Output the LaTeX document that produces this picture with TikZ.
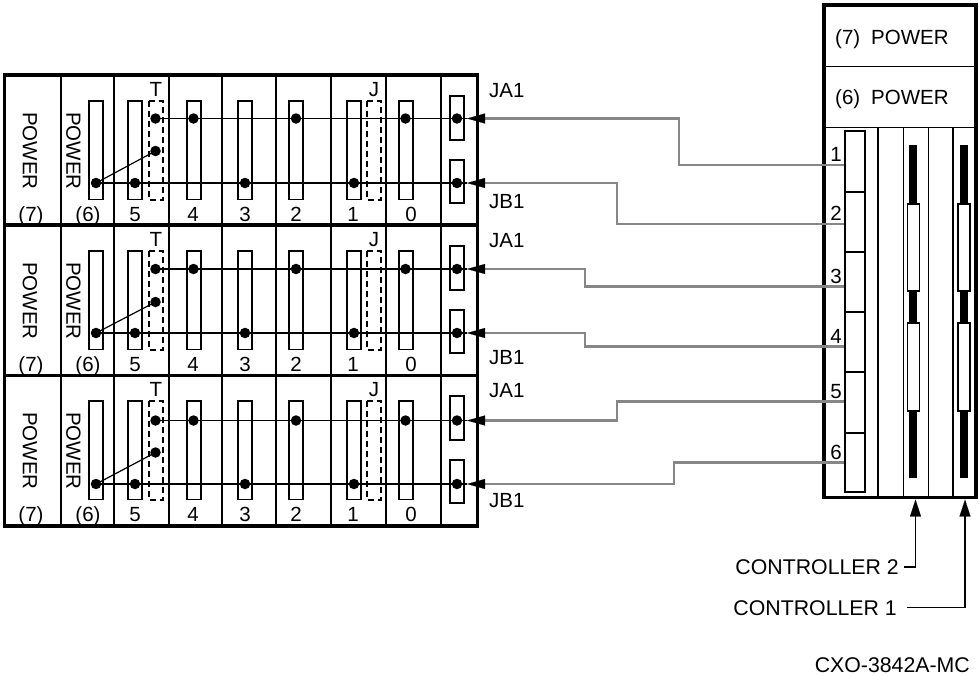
\documentclass[tikz,border=0pt]{standalone}
\usepackage{fontspec}
\setmainfont{Liberation Sans}
\usetikzlibrary{arrows.meta}
\definecolor{cablegray}{RGB}{135,135,135}
\begin{document}
\begin{tikzpicture}[x=1pt,y=-1pt,
  thinline/.style={line width=1.2pt},
  frame/.style={line width=3.8pt},
  dot/.style={circle,fill=black,inner sep=0pt,minimum size=10.5pt},
  dashbox/.style={draw,line width=1.2pt,dash pattern=on 6pt off 4pt},
  cable/.style={draw=cablegray,line width=2.6pt,-{Triangle[length=18pt,width=10pt,black,line width=0.1pt]}},
  lbl/.style={font=\fontsize{20.5}{24}\selectfont,inner sep=0pt},
  biglbl/.style={font=\fontsize{21.3}{25}\selectfont,inner sep=0pt},
  uparrow/.style={line width=1.4pt,-{Triangle[length=17pt,width=11pt,line width=0.1pt]}}
]
\useasboundingbox (0,0) rectangle (979,675);

% ---------------- left shelves ----------------
\foreach \s/\Y/\U/\L/\M/\JB in {1/75/118.5/183/151/208, 2/225/269/333/302/364, 3/375/420.5/484/452.5/507} {
  % column dividers
  \foreach \x in {61,114,169,222,276,331,386,441}
    \draw[thinline] (\x,\Y) -- (\x,\Y+150);
  % module bars
  \foreach \x in {89,128,187,238,289,347,399}
    \draw[thinline] (\x,\Y+26) rectangle ++(14,98.5);
  % dashed terminator / jumper positions
  \draw[dashbox] (149,\Y+26) rectangle ++(14,99);
  \draw[dashbox] (367,\Y+26) rectangle ++(14,99);
  \node[lbl,anchor=base] (T\s) at (156,\Y+21) {T};
  \node[lbl,anchor=base] (J\s) at (374,\Y+21) {J};
  % connector boxes
  \draw[thinline] (450,\Y+21) rectangle (464,\Y+65);
  \draw[thinline] (450,\Y+85) rectangle (464,\Y+128);
  % arrow tip coordinates
  \coordinate (a\s) at (467,\U);
  \coordinate (b\s) at (467,\L);
  % dots
  \node[dot] (t\s) at (155.5,\U) {};
  \node[dot] (m\s) at (155.5,\M) {};
  \node[dot] (g\s) at (96,\L) {};
  \node[dot] (u4\s) at (193.5,\U) {};
  \node[dot] (u2\s) at (296,\U) {};
  \node[dot] (u0\s) at (405.5,\U) {};
  \node[dot] (ua\s) at (457,\U) {};
  \node[dot] (l5\s) at (135,\L) {};
  \node[dot] (l3\s) at (245,\L) {};
  \node[dot] (l1\s) at (354,\L) {};
  \node[dot] (lb\s) at (457,\L) {};
  % bus lines
  \draw[thinline] (t\s.center) -- (a\s);
  \draw[thinline] (g\s.center) -- (b\s);
  \draw[thinline] (g\s.center) -- (m\s.center);
  % labels
  \node[lbl,rotate=-90] (p7\s) at (30,\Y+76) {POWER};
  \node[lbl,rotate=-90] (p6\s) at (73.5,\Y+76) {POWER};
  \foreach \x/\t in {31/{(7)},88/{(6)},135/5,193/4,245/3,296/2,353/1,411/0}
    \node[lbl,anchor=base] at (\x,\Y+146.5) {\t};
  \node[lbl,anchor=base west] (ja\s) at (489,\Y+22) {JA1};
  \node[lbl,anchor=base west] (jb\s) at (489,\JB) {JB1};
}
% shelf frames
\draw[frame] (4.5,75.3) rectangle (477.5,526);
\draw[frame] (4.5,225) -- (477.5,225);
\draw[frame] (4.5,375.5) -- (477.5,375.5);

% ---------------- right cabinet ----------------
\draw[thinline] (824,66.7) -- (976,66.7);
\draw[thinline] (824,127.7) -- (976,127.7);
\node[lbl,anchor=base west] (p7r) at (835,44.5) {(7)};
\node[lbl,anchor=base west] (p7rt) at (871,44.5) {POWER};
\node[lbl,anchor=base west] (p6r) at (835,104) {(6)};
\node[lbl,anchor=base west] (p6rt) at (871,104) {POWER};
\foreach \x in {878,903.3,928.3,953}
  \draw[thinline] (\x,127.7) -- (\x,498);
% SCSI slots
\foreach \n/\a/\b/\y in {1/131/192/165,2/192/252/224,3/252/312/286.7,4/312/372/346.7,5/372/433/401.7,6/433/492/462.5} {
  \draw[thinline] (845,\a) rectangle (865,\b);
  \coordinate (s\n) at (844,\y);
  \node[lbl,anchor=base east] (n\n) at (842,\y-3.5) {\n};
}
% controller bars
\foreach \x in {913.3,964} {
  \fill[black] (\x-4,145) rectangle (\x+4,478.3);
  \draw[thinline,fill=white] (\x-6,204) rectangle (\x+6,291);
  \draw[thinline,fill=white] (\x-6,323) rectangle (\x+6,411);
}
\draw[frame] (824.3,5.3) rectangle (975.7,497.5);

% ---------------- cables ----------------
\coordinate (v1) at (679,0);
\coordinate (v2) at (617,0);
\coordinate (v3) at (585,0);
\coordinate (v4) at (585,0);
\coordinate (v5) at (617,0);
\coordinate (v6) at (674,0);
\draw[cable] (s1) -- (s1 -| v1) -- (v1 |- a1) -- (a1);
\draw[cable] (s2) -- (s2 -| v2) -- (v2 |- b1) -- (b1);
\draw[cable] (s3) -- (s3 -| v3) -- (v3 |- a2) -- (a2);
\draw[cable] (s4) -- (s4 -| v4) -- (v4 |- b2) -- (b2);
\draw[cable] (s5) -- (s5 -| v5) -- (v5 |- a3) -- (a3);
\draw[cable] (s6) -- (s6 -| v6) -- (v6 |- b3) -- (b3);

% ---------------- controllers ----------------
\coordinate (k2) at (915.5,499.5);
\coordinate (k1) at (965,499.5);
\node[biglbl,anchor=east] (ctl2) at (899,567) {CONTROLLER 2};
\node[biglbl,anchor=east] (ctl1) at (897,607.7) {CONTROLLER 1};
\draw[uparrow] ([xshift=5pt]ctl2.east) -| (k2);
\draw[uparrow] ([xshift=10pt]ctl1.east) -| (k1);
\node[biglbl,anchor=east] (code) at (970,665) {CXO-3842A-MC};
\end{tikzpicture}
\end{document}
